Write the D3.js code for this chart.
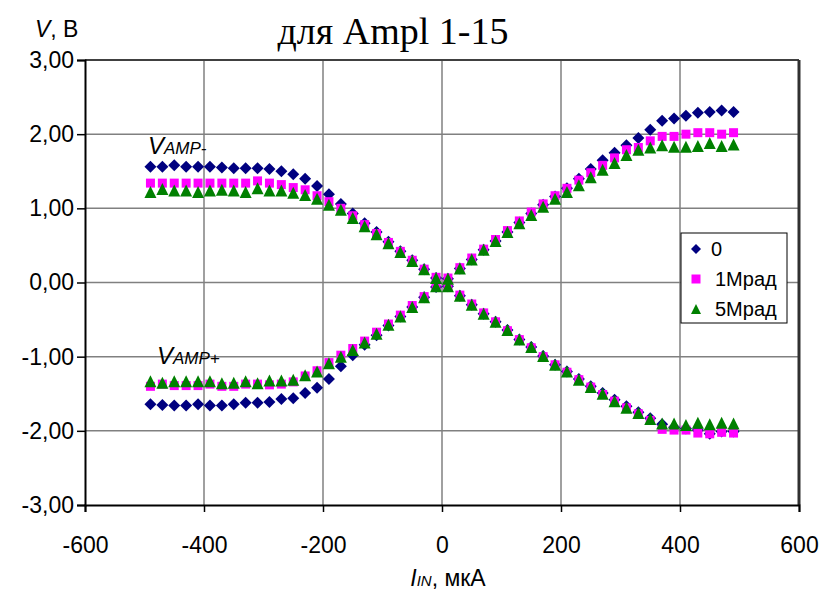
<!DOCTYPE html>
<html>
<head>
<meta charset="utf-8">
<script src="https://cdn.jsdelivr.net/npm/d3@7"></script>
<style>
  body { margin: 0; background: #fff; }
  text { font-family: "Liberation Sans", Arial, sans-serif; }
</style>
</head>
<body>
<svg width="830" height="590"></svg>
<script>
// input current, uA
const currentIn = [-490, -470, -450, -430, -410, -390, -370, -350, -330, -310,
  -290, -270, -250, -230, -210, -190, -170, -150, -130, -110,
  -90, -70, -50, -30, -10, 10, 30, 50, 70, 90,
  110, 130, 150, 170, 190, 210, 230, 250, 270, 290,
  310, 330, 350, 370, 390, 410, 430, 450, 470, 490];

// V_AMP- branch
const vampMinus0 = [1.56, 1.56, 1.58, 1.56, 1.56, 1.56, 1.55, 1.54, 1.54, 1.54,
  1.53, 1.50, 1.46, 1.40, 1.30, 1.19, 1.06, 0.93, 0.80, 0.68,
  0.55, 0.42, 0.30, 0.18, 0.06, -0.05, -0.18, -0.30, -0.42, -0.53,
  -0.64, -0.77, -0.87, -0.99, -1.11, -1.20, -1.30, -1.40, -1.49, -1.58,
  -1.67, -1.75, -1.83, -1.91, -1.95, -1.97, -1.99, -2.04, -2.01, -2.01];
const vampMinus1 = [1.34, 1.34, 1.34, 1.34, 1.34, 1.34, 1.34, 1.34, 1.34, 1.37,
  1.34, 1.32, 1.28, 1.25, 1.17, 1.09, 1.00, 0.90, 0.78, 0.66,
  0.54, 0.42, 0.30, 0.18, 0.07, -0.05, -0.17, -0.29, -0.41, -0.53,
  -0.65, -0.77, -0.88, -1.00, -1.11, -1.21, -1.31, -1.41, -1.51, -1.60,
  -1.69, -1.77, -1.86, -1.98, -1.99, -1.99, -2.03, -2.04, -2.02, -2.03];
const vampMinus5 = [1.22, 1.26, 1.24, 1.24, 1.22, 1.24, 1.25, 1.24, 1.22, 1.27,
  1.24, 1.24, 1.21, 1.18, 1.13, 1.05, 0.98, 0.87, 0.76, 0.65,
  0.53, 0.41, 0.29, 0.18, 0.06, -0.05, -0.18, -0.30, -0.42, -0.53,
  -0.64, -0.77, -0.87, -0.99, -1.11, -1.20, -1.31, -1.41, -1.50, -1.60,
  -1.69, -1.76, -1.84, -1.90, -1.90, -1.92, -1.89, -1.91, -1.89, -1.90];

// V_AMP+ branch
const vampPlus0 = [-1.64, -1.65, -1.66, -1.66, -1.64, -1.66, -1.66, -1.64, -1.62, -1.62,
  -1.61, -1.57, -1.56, -1.49, -1.42, -1.30, -1.13, -0.98, -0.84, -0.71,
  -0.58, -0.46, -0.33, -0.20, -0.06, 0.05, 0.19, 0.31, 0.44, 0.56,
  0.68, 0.81, 0.93, 1.05, 1.16, 1.27, 1.40, 1.53, 1.65, 1.75,
  1.85, 1.95, 2.06, 2.18, 2.21, 2.25, 2.29, 2.30, 2.32, 2.30];
const vampPlus1 = [-1.40, -1.37, -1.39, -1.39, -1.39, -1.37, -1.40, -1.40, -1.37, -1.37,
  -1.38, -1.37, -1.34, -1.26, -1.19, -1.08, -0.98, -0.89, -0.79, -0.67,
  -0.56, -0.44, -0.31, -0.19, -0.05, 0.06, 0.20, 0.33, 0.45, 0.58,
  0.70, 0.83, 0.95, 1.06, 1.17, 1.27, 1.38, 1.48, 1.58, 1.68,
  1.79, 1.82, 1.91, 1.97, 1.97, 2.00, 2.02, 2.02, 2.00, 2.02];
const vampPlus5 = [-1.33, -1.35, -1.33, -1.33, -1.33, -1.33, -1.36, -1.35, -1.33, -1.36,
  -1.32, -1.32, -1.31, -1.25, -1.20, -1.09, -1.00, -0.91, -0.81, -0.69,
  -0.57, -0.46, -0.33, -0.20, -0.05, 0.05, 0.19, 0.31, 0.44, 0.56,
  0.68, 0.80, 0.91, 1.02, 1.13, 1.22, 1.31, 1.42, 1.52, 1.61,
  1.72, 1.79, 1.82, 1.85, 1.83, 1.83, 1.84, 1.88, 1.84, 1.86];

const seriesNames = ["0", "1Мрад", "5Мрад"];
const seriesColors = ["#000080", "#ff00ff", "#008000"];
const xTicks = [-600, -400, -200, 0, 200, 400, 600];
const yTicks = [-3, -2, -1, 0, 1, 2, 3];

const series = [
  { name: seriesNames[0], color: seriesColors[0], shape: "diamond", minus: vampMinus0, plus: vampPlus0 },
  { name: seriesNames[1], color: seriesColors[1], shape: "square", minus: vampMinus1, plus: vampPlus1 },
  { name: seriesNames[2], color: seriesColors[2], shape: "triangle", minus: vampMinus5, plus: vampPlus5 }
];

const svg = d3.select("svg");
const x = d3.scaleLinear().domain([-600, 600]).range([85, 799]);
const y = d3.scaleLinear().domain([-3, 3]).range([505, 60]);

const loc = d3.formatLocale({ decimal: ",", thousands: " ", grouping: [3], currency: ["", ""], minus: "-" });
const fmtY = loc.format(".2f");
const fmtX = loc.format("d");

// marker shapes (bbox-centred)
const shapes = {
  diamond: { draw(ctx, r) { ctx.moveTo(0, -r); ctx.lineTo(r, 0); ctx.lineTo(0, r); ctx.lineTo(-r, 0); ctx.closePath(); } },
  square: { draw(ctx, r) { ctx.rect(-r, -r, 2 * r, 2 * r); } },
  triangle: { draw(ctx, r) { ctx.moveTo(0, -r); ctx.lineTo(r, r); ctx.lineTo(-r, r); ctx.closePath(); } }
};
const shapeSize = { diamond: 6, square: 4.5, triangle: 6 };

// grid
svg.append("g")
  .selectAll("line.v")
  .data(xTicks.slice(1, -1))
  .join("line")
  .attr("x1", d => x(d)).attr("x2", d => x(d))
  .attr("y1", y(3)).attr("y2", y(-3))
  .attr("stroke", "#808080").attr("stroke-width", 1.5);
svg.append("g")
  .selectAll("line.h")
  .data(yTicks.slice(1, -1))
  .join("line")
  .attr("y1", d => y(d)).attr("y2", d => y(d))
  .attr("x1", x(-600)).attr("x2", x(600))
  .attr("stroke", "#808080").attr("stroke-width", 1.5);

// frame top/right
svg.append("line").attr("x1", x(-600)).attr("x2", x(600)).attr("y1", y(3)).attr("y2", y(3))
  .attr("stroke", "#404040").attr("stroke-width", 2);
svg.append("line").attr("x1", x(600)).attr("x2", x(600)).attr("y1", y(3)).attr("y2", y(-3))
  .attr("stroke", "#303030").attr("stroke-width", 3);

// axes
const gx = svg.append("g").attr("transform", `translate(0,${y(-3)})`)
  .call(d3.axisBottom(x).tickValues(xTicks).tickFormat(fmtX).tickSize(7).tickPadding(25));
const gy = svg.append("g").attr("transform", `translate(${x(-600)},0)`)
  .call(d3.axisLeft(y).tickValues(yTicks).tickFormat(fmtY).tickSize(8).tickPadding(3));
[gx, gy].forEach(g => {
  g.select(".domain").attr("stroke", "#000").attr("stroke-width", 2);
  g.selectAll(".tick line").attr("stroke", "#000").attr("stroke-width", 1.5);
  g.selectAll(".tick text").attr("fill", "#000").style("font-size", "23px")
    .style("font-family", "'Liberation Sans', Arial, sans-serif");
});

// markers
series.forEach(s => {
  const sym = d3.symbol().type(shapes[s.shape]).size(shapeSize[s.shape]);
  const pts = currentIn.map((c, i) => [c, s.minus[i]])
    .concat(currentIn.map((c, i) => [c, s.plus[i]]));
  svg.append("g")
    .selectAll("path")
    .data(pts)
    .join("path")
    .attr("d", sym)
    .attr("transform", d => `translate(${x(d[0])},${y(d[1])})`)
    .attr("fill", s.color);
});

// legend
const lg = svg.append("g").attr("transform", "translate(681,233)");
lg.append("rect").attr("width", 106).attr("height", 90)
  .attr("fill", "#fff").attr("stroke", "#000").attr("stroke-width", 1);
series.forEach((s, i) => {
  const row = lg.append("g").attr("transform", `translate(15,${16 + i * 30})`);
  row.append("path").attr("d", d3.symbol().type(shapes[s.shape]).size(s.shape === "square" ? 4.5 : 5)())
    .attr("fill", s.color);
  row.append("text").attr("x", i === 0 ? 15 : 19).attr("y", 7)
    .style("font-size", "20px").text(s.name);
});

// title and axis labels
svg.append("text").attr("x", 393).attr("y", 44).attr("text-anchor", "middle")
  .style("font-family", "'Liberation Serif', 'Times New Roman', serif").style("font-size", "38px")
  .text("для Ampl 1-15");

const yl = svg.append("text").attr("x", 35).attr("y", 37).style("font-size", "23px");
yl.append("tspan").style("font-style", "italic").text("V");
yl.append("tspan").text(", В");

const xl = svg.append("text").attr("x", 448).attr("y", 586).attr("text-anchor", "middle").style("font-size", "23px");
xl.append("tspan").style("font-style", "italic").text("I");
xl.append("tspan").style("font-style", "italic").style("font-size", "15px").text("IN");
xl.append("tspan").text(", мкА");

const lm = svg.append("text").attr("x", 148).attr("y", 154).style("font-size", "24px").style("font-style", "italic");
lm.append("tspan").text("V");
lm.append("tspan").style("font-size", "17px").text("AMP-");

const lp = svg.append("text").attr("x", 157).attr("y", 364).style("font-size", "24px").style("font-style", "italic");
lp.append("tspan").text("V");
lp.append("tspan").style("font-size", "17px").text("AMP+");
</script>
</body>
</html>
